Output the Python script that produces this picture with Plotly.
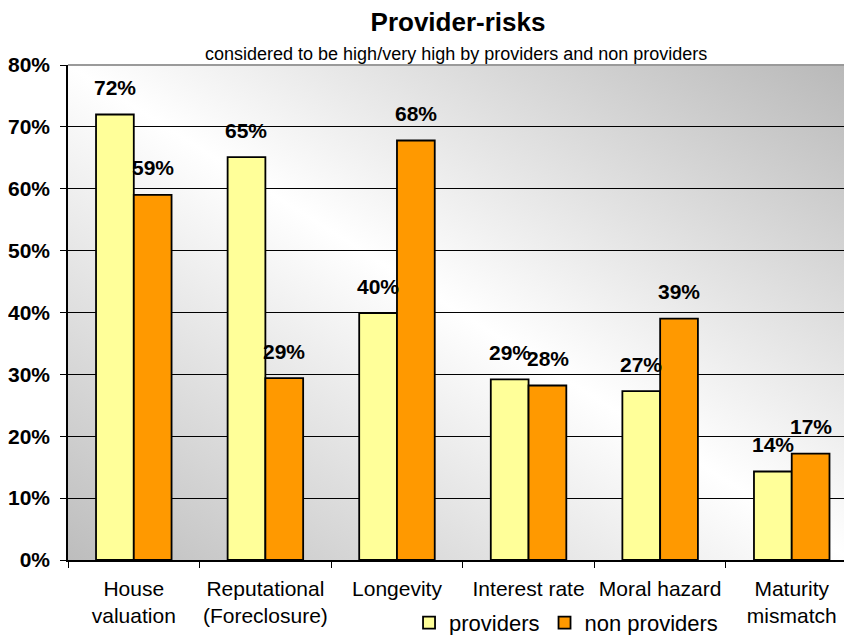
import base64
import plotly.graph_objects as go

categories = ["House<br>valuation", "Reputational<br>(Foreclosure)", "Longevity",
              "Interest rate", "Moral hazard", "Maturity<br>mismatch"]
providers = [72.0, 65.1, 39.9, 29.2, 27.3, 14.3]
non_providers = [59.0, 29.4, 67.8, 28.2, 39.0, 17.2]
providers_labels = ["72%", "65%", "40%", "29%", "27%", "14%"]
non_providers_labels = ["59%", "29%", "68%", "28%", "39%", "17%"]
y_ticks = [0, 10, 20, 30, 40, 50, 60, 70, 80]
y_ticktext = [f"{v}%" for v in y_ticks]

FONT = "Liberation Sans, Arial, sans-serif"

# page body has a default 8px margin, so the figure is sized to fill the rest of the window
W, H = 844, 627

svg = ('<svg xmlns="http://www.w3.org/2000/svg" width="100" height="100" viewBox="0 0 100 100" '
       'preserveAspectRatio="none"><defs><linearGradient id="g" x1="1" y1="0" x2="0" y2="1">'
       '<stop offset="0" stop-color="#b8b8b8"/><stop offset="0.5" stop-color="#ffffff"/>'
       '<stop offset="1" stop-color="#bdbdbd"/></linearGradient></defs>'
       '<rect width="100" height="100" fill="url(#g)"/></svg>')
bg_src = "data:image/svg+xml;base64," + base64.b64encode(svg.encode()).decode()

fig = go.Figure()
fig.add_trace(go.Bar(name="providers", x=categories, y=providers,
                     marker=dict(color="#FFFF99", line=dict(color="black", width=1.8))))
fig.add_trace(go.Bar(name="non providers", x=categories, y=non_providers,
                     marker=dict(color="#FF9900", line=dict(color="black", width=1.8))))

annotations = []
for cat, v, t in zip(categories, providers, providers_labels):
    annotations.append(dict(x=cat, y=v, text=t, showarrow=False, xshift=-19, yshift=27,
                            yanchor="middle", font=dict(family=FONT, size=21, color="black", weight="bold")))
for cat, v, t in zip(categories, non_providers, non_providers_labels):
    annotations.append(dict(x=cat, y=v, text=t, showarrow=False, xshift=19, yshift=27,
                            yanchor="middle", font=dict(family=FONT, size=21, color="black", weight="bold")))
annotations.append(dict(xref="paper", yref="paper", x=0.495, y=1.023, yanchor="middle",
                        text="considered to be high/very high by providers and non providers",
                        showarrow=False, font=dict(family=FONT, size=18, color="black")))

fig.update_layout(
    width=W, height=H,
    margin=dict(l=60, r=0, t=57, b=75, autoexpand=False),
    paper_bgcolor="white",
    plot_bgcolor="rgba(0,0,0,0)",
    title=dict(text="<b>Provider-risks</b>", x=450 / W, xanchor="center", y=1 - 14 / H,
               yanchor="middle", font=dict(family=FONT, size=26, color="black")),
    barmode="group", bargap=0.426, bargroupgap=0,
    showlegend=True,
    legend=dict(orientation="h", x=0.435, xanchor="left", y=-0.127, yanchor="middle",
                font=dict(family=FONT, size=22, color="black"),
                bgcolor="rgba(0,0,0,0)", traceorder="normal"),
    images=[dict(source=bg_src, xref="paper", yref="paper", x=0, y=1, sizex=1, sizey=1,
                 xanchor="left", yanchor="top", sizing="stretch", layer="below")],
    annotations=annotations,
    font=dict(family=FONT, color="black"),
)
fig.update_xaxes(type="category", range=[-0.5, 5.458], tickson="boundaries", ticks="outside",
                 ticklen=6, tickcolor="black", showline=True, linecolor="black", linewidth=1.5,
                 tickangle=0, ticklabelstandoff=9, showgrid=False, automargin=False,
                 tickfont=dict(family=FONT, size=21, color="black"))
fig.update_yaxes(range=[0, 80], tickvals=y_ticks, ticktext=y_ticktext, ticks="outside",
                 ticklen=6, tickcolor="black", showline=True, linecolor="black", linewidth=1.5,
                 showgrid=True, gridcolor="black", gridwidth=1, zeroline=False,
                 ticklabelstandoff=6, automargin=False,
                 tickfont=dict(family=FONT, size=21, color="black", weight="bold"))
fig.add_shape(type="line", xref="paper", yref="paper", x0=0, x1=1, y0=1, y1=1,
              line=dict(color="#9a9a9a", width=2), layer="above")

fig.write_html("out.html")
